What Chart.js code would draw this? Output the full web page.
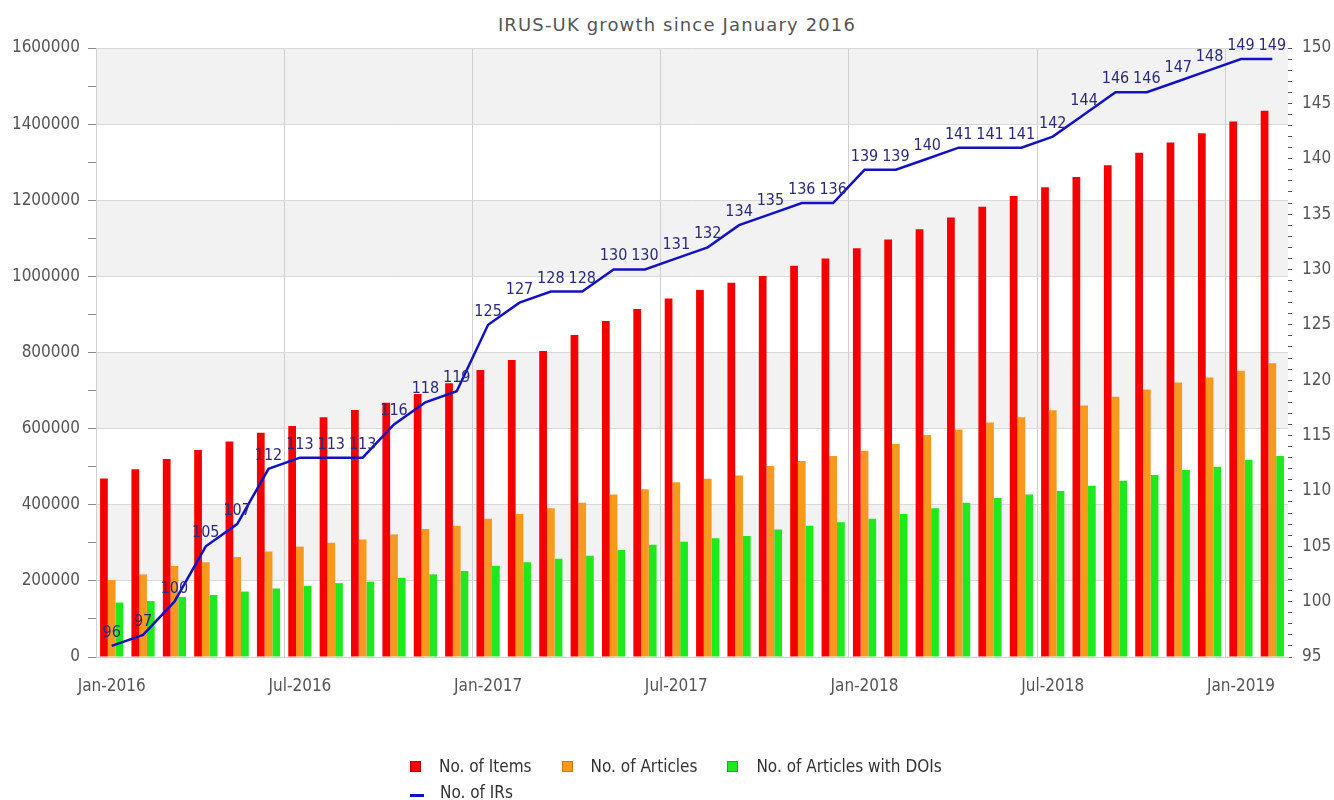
<!DOCTYPE html>
<html>
<head>
<meta charset="utf-8">
<title>IRUS-UK growth since January 2016</title>
<script src="https://cdn.jsdelivr.net/npm/chart.js@4.4.1/dist/chart.umd.min.js"></script>
<style>
  html, body { margin: 0; padding: 0; background: #fff; }
  body { position: relative; width: 1334px; height: 800px; overflow: hidden; }
  #chartTitle {
    position: absolute; top: 15px; left: 0; width: 1354px;
    text-align: center; font: 18px/20px "DejaVu Sans", sans-serif;
    letter-spacing: 1.15px; color: #555;
  }
  #chart { position: absolute; left: 0; top: 0; }
  #legend {
    position: absolute; left: 410px; top: 753px; width: 600px;
    font: 17px/20px "DejaVu Sans Condensed", "DejaVu Sans", sans-serif; color: #333;
  }
  .legend-row { display: flex; height: 26px; align-items: center; }
  .legend-item { display: flex; align-items: center; margin-right: 30px; }
  .legend-box { width: 9px; height: 9px; border: 1px solid; margin-right: 18px; }
  .legend-line { width: 14px; height: 3px; margin-right: 16px; margin-top: 7px; }
</style>
</head>
<body>
<div id="chartTitle">IRUS-UK growth since January 2016</div>
<canvas id="chart" width="1334" height="800"></canvas>
<div id="legend"></div>
<script>
// ── Data ─────────────────────────────────────────────────────────────────────
const months = [
  'Jan-2016', 'Feb-2016', 'Mar-2016', 'Apr-2016', 'May-2016', 'Jun-2016',
  'Jul-2016', 'Aug-2016', 'Sep-2016', 'Oct-2016', 'Nov-2016', 'Dec-2016',
  'Jan-2017', 'Feb-2017', 'Mar-2017', 'Apr-2017', 'May-2017', 'Jun-2017',
  'Jul-2017', 'Aug-2017', 'Sep-2017', 'Oct-2017', 'Nov-2017', 'Dec-2017',
  'Jan-2018', 'Feb-2018', 'Mar-2018', 'Apr-2018', 'May-2018', 'Jun-2018',
  'Jul-2018', 'Aug-2018', 'Sep-2018', 'Oct-2018', 'Nov-2018', 'Dec-2018',
  'Jan-2019', 'Feb-2019'
];

const itemCounts = [
  469000, 493000, 520000, 544000, 566000, 589000, 607000, 630000, 649000, 668000,
  691000, 719000, 754000, 780000, 804000, 846000, 883000, 914000, 942000, 964000,
  983000, 1001000, 1028000, 1047000, 1074000, 1097000, 1124000, 1155000, 1183000, 1211000,
  1234000, 1261000, 1292000, 1325000, 1352000, 1376000, 1407000, 1435000
];

const articleCounts = [
  202000, 217000, 239000, 249000, 263000, 277000, 290000, 300000, 309000, 322000,
  336000, 345000, 363000, 376000, 391000, 405000, 427000, 441000, 459000, 468000,
  477000, 502000, 515000, 528000, 542000, 560000, 583000, 598000, 616000, 630000,
  648000, 661000, 684000, 703000, 721000, 734000, 752000, 772000
];

const doiCounts = [
  143000, 147000, 158000, 163000, 172000, 180000, 187000, 194000, 198000, 208000,
  217000, 226000, 240000, 249000, 258000, 266000, 281000, 295000, 303000, 312000,
  318000, 335000, 345000, 354000, 363000, 376000, 391000, 405000, 418000, 427000,
  436000, 450000, 463000, 478000, 491000, 500000, 518000, 528000
];

const irCounts = [
  96, 97, 100, 105, 107, 112, 113, 113, 113, 116, 118, 119,
  125, 127, 128, 128, 130, 130, 131, 132, 134, 135, 136, 136,
  139, 139, 140, 141, 141, 141, 142, 144, 146, 146, 147, 148,
  149, 149
];

// Axis ranges
const COUNT_MAX  = 1600000;
const COUNT_STEP = 200000;
const IR_MIN = 95;
const IR_MAX = 150;

// ── Styles ───────────────────────────────────────────────────────────────────
const FONT = '"DejaVu Sans Condensed", "DejaVu Sans", sans-serif';
const TEXT_COLOR = '#555';
const GRID_COLOR = '#d8d8d8';
const BAND_COLOR = '#f2f2f2';

// ── Plugins ──────────────────────────────────────────────────────────────────

// Alternating grey bands behind the plot
const bandPlugin = {
  id: 'bands',
  beforeDraw(chart) {
    const { ctx, chartArea: area, scales: { y } } = chart;
    ctx.save();
    ctx.fillStyle = BAND_COLOR;
    for (let v = COUNT_STEP; v < COUNT_MAX; v += COUNT_STEP * 2) {
      const top = y.getPixelForValue(v + COUNT_STEP);
      const bottom = y.getPixelForValue(v);
      ctx.fillRect(area.left, top, area.right - area.left, bottom - top);
    }
    ctx.restore();
  }
};

// Value labels above the "No. of IRs" line
const irLabelPlugin = {
  id: 'irLabels',
  afterDatasetsDraw(chart) {
    const ctx = chart.ctx;
    const idx = chart.data.datasets.findIndex(d => d.type === 'line');
    const meta = chart.getDatasetMeta(idx);
    ctx.save();
    ctx.font = '16px ' + FONT;
    ctx.fillStyle = '#2a2a78';
    ctx.textAlign = 'center';
    ctx.textBaseline = 'alphabetic';
    meta.data.forEach((pt, i) => {
      ctx.fillText(String(irCounts[i]), pt.x, pt.y - 9);
    });
    ctx.restore();
  }
};

// ── Chart ────────────────────────────────────────────────────────────────────
const ctx = document.getElementById('chart').getContext('2d');

const chart = new Chart(ctx, {
  type: 'bar',
  data: {
    labels: months,
    datasets: [
      {
        label: 'No. of Items',
        data: itemCounts,
        backgroundColor: '#f50000',
        borderColor: '#c00000',
        yAxisID: 'y',
        order: 1,
      },
      {
        label: 'No. of Articles',
        data: articleCounts,
        backgroundColor: '#f7991f',
        borderColor: '#c87814',
        yAxisID: 'y',
        order: 1,
      },
      {
        label: 'No. of Articles with DOIs',
        data: doiCounts,
        backgroundColor: '#1ee81e',
        borderColor: '#14b414',
        yAxisID: 'y',
        order: 1,
      },
      {
        type: 'line',
        label: 'No. of IRs',
        data: irCounts,
        borderColor: '#1212c4',
        backgroundColor: '#1212c4',
        borderWidth: 2.5,
        pointRadius: 0,
        tension: 0,
        yAxisID: 'y2',
        order: 0,
      },
    ],
  },
  options: {
    responsive: false,
    animation: false,
    datasets: {
      bar: { categoryPercentage: 0.74, barPercentage: 1.0, borderWidth: 0 },
    },
    layout: { padding: { top: 48, left: 0, right: 0, bottom: 0 } },
    plugins: {
      legend: { display: false },
      title: { display: false },
      tooltip: { enabled: false },
    },
    scales: {
      x: {
        offset: true,
        afterFit: s => { s.height = 143; },
        border: { display: true, color: '#d0d0d0' },
        grid: {
          offset: true,
          drawTicks: false,
          color: c => (c.index > 0 && c.index % 6 === 0) ? '#cfcfcf' : 'rgba(0,0,0,0)',
        },
        ticks: {
          autoSkip: false,
          maxRotation: 0,
          padding: 19,
          color: TEXT_COLOR,
          font: { family: FONT, size: 17 },
          callback: (v, i) => (i % 6 === 0 ? months[i] : ''),
        },
      },
      y: {
        position: 'left',
        min: 0,
        max: COUNT_MAX,
        afterFit: s => { s.width = 96; },
        border: { display: true, color: '#d0d0d0' },
        grid: {
          color: c => (c.tick && c.tick.value % COUNT_STEP === 0) ? GRID_COLOR : 'rgba(0,0,0,0)',
          tickColor: '#888',
          tickLength: 8,
        },
        ticks: {
          stepSize: COUNT_STEP / 2,
          autoSkip: false,
          padding: 8,
          color: TEXT_COLOR,
          font: { family: FONT, size: 17 },
          callback: v => (v % COUNT_STEP === 0 ? String(v) : ''),
        },
      },
      y2: {
        position: 'right',
        min: IR_MIN,
        max: IR_MAX,
        afterFit: s => { s.width = 46; },
        border: { display: false },
        grid: {
          drawOnChartArea: false,
          tickColor: '#555',
          tickLength: 4,
        },
        ticks: {
          stepSize: 1,
          autoSkip: false,
          padding: 10,
          color: TEXT_COLOR,
          font: { family: FONT, size: 17 },
          callback: v => (v % 5 === 0 ? String(v) : ''),
        },
      },
    },
  },
  plugins: [bandPlugin, irLabelPlugin],
});

// ── HTML legend (two rows, left-aligned as in the original) ─────────────────
function buildLegend() {
  const legendEl = document.getElementById('legend');
  const sets = chart.data.datasets;
  const rows = [sets.filter(d => d.type !== 'line'), sets.filter(d => d.type === 'line')];
  rows.forEach(row => {
    const rowEl = document.createElement('div');
    rowEl.className = 'legend-row';
    row.forEach(ds => {
      const item = document.createElement('span');
      item.className = 'legend-item';
      const mark = document.createElement('span');
      if (ds.type === 'line') {
        mark.className = 'legend-line';
        mark.style.background = ds.borderColor;
      } else {
        mark.className = 'legend-box';
        mark.style.background = ds.backgroundColor;
        mark.style.borderColor = ds.borderColor;
      }
      const text = document.createElement('span');
      text.textContent = ds.label;
      item.appendChild(mark);
      item.appendChild(text);
      rowEl.appendChild(item);
    });
    legendEl.appendChild(rowEl);
  });
}

buildLegend();
</script>
</body>
</html>
